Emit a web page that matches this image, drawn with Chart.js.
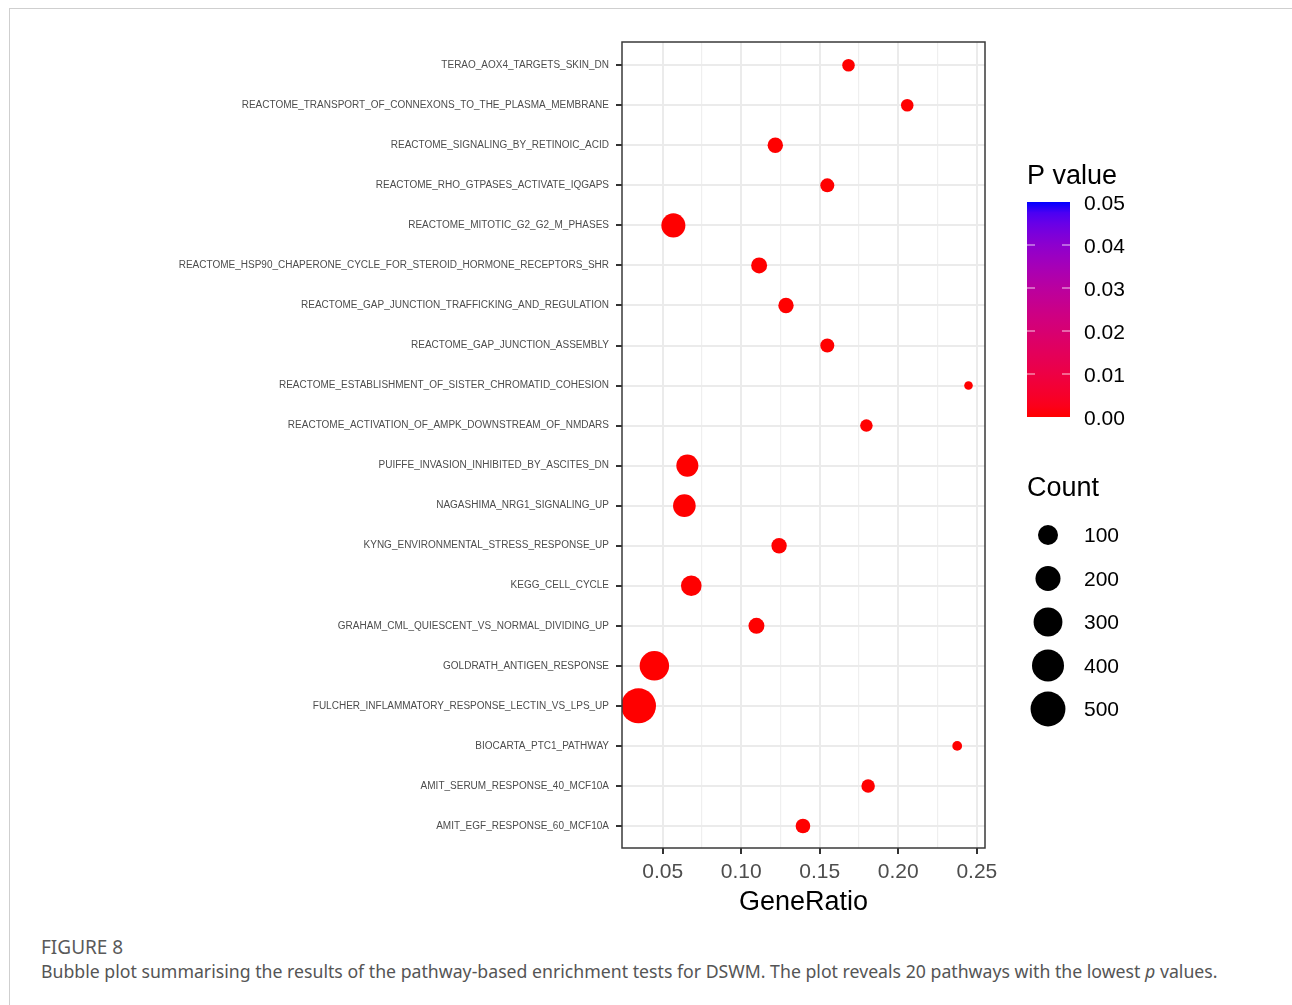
<!DOCTYPE html>
<html>
<head>
<meta charset="utf-8">
<script src="https://cdn.jsdelivr.net/npm/chart.js@4.4.0/dist/chart.umd.min.js"></script>
<style>
  body { margin: 0; background: #fff; }
  #card { position: absolute; left: 9px; top: 8px; right: 0; bottom: 0; border-top: 1px solid #cfcfcf; border-left: 1px solid #cfcfcf; }
  #wrap { position: absolute; left: 0; top: 0; width: 1292px; height: 930px; }
  .cap { position: absolute; left: 41px; font-family: "Noto Sans", sans-serif; line-height: 1; white-space: nowrap; }
  #figno { top: 938px; font-size: 19px; color: #5a5a5a; }
  #captxt { top: 963px; font-size: 17.7px; color: #555; }
</style>
</head>
<body>
<div id="card"></div>
<div id="wrap"><canvas id="bubbles" width="1292" height="930"></canvas></div>
<div class="cap" id="figno">FIGURE 8</div>
<div class="cap" id="captxt">Bubble plot summarising the results of the pathway-based enrichment tests for DSWM. The plot reveals 20 pathways with the lowest <i>p</i> values.</div>
<script>
// pathways listed top to bottom as in the figure
var pathways = [
    'TERAO_AOX4_TARGETS_SKIN_DN',
    'REACTOME_TRANSPORT_OF_CONNEXONS_TO_THE_PLASMA_MEMBRANE',
    'REACTOME_SIGNALING_BY_RETINOIC_ACID',
    'REACTOME_RHO_GTPASES_ACTIVATE_IQGAPS',
    'REACTOME_MITOTIC_G2_G2_M_PHASES',
    'REACTOME_HSP90_CHAPERONE_CYCLE_FOR_STEROID_HORMONE_RECEPTORS_SHR',
    'REACTOME_GAP_JUNCTION_TRAFFICKING_AND_REGULATION',
    'REACTOME_GAP_JUNCTION_ASSEMBLY',
    'REACTOME_ESTABLISHMENT_OF_SISTER_CHROMATID_COHESION',
    'REACTOME_ACTIVATION_OF_AMPK_DOWNSTREAM_OF_NMDARS',
    'PUIFFE_INVASION_INHIBITED_BY_ASCITES_DN',
    'NAGASHIMA_NRG1_SIGNALING_UP',
    'KYNG_ENVIRONMENTAL_STRESS_RESPONSE_UP',
    'KEGG_CELL_CYCLE',
    'GRAHAM_CML_QUIESCENT_VS_NORMAL_DIVIDING_UP',
    'GOLDRATH_ANTIGEN_RESPONSE',
    'FULCHER_INFLAMMATORY_RESPONSE_LECTIN_VS_LPS_UP',
    'BIOCARTA_PTC1_PATHWAY',
    'AMIT_SERUM_RESPONSE_40_MCF10A',
    'AMIT_EGF_RESPONSE_60_MCF10A'
];
var geneRatio = [0.1683, 0.2057, 0.1217, 0.1548, 0.0568, 0.1114, 0.1285, 0.1548, 0.2447, 0.1797,
                 0.0657, 0.0638, 0.1241, 0.0682, 0.1097, 0.0447, 0.0346, 0.2375, 0.1808, 0.1393];
var counts = [18, 18, 40, 28, 177, 46, 40, 28, 7, 18,
              136, 148, 40, 111, 46, 318, 505, 8, 24, 33];
var pValues = [2e-5, 3e-5, 1e-5, 2e-5, 1e-6, 3e-5, 2e-5, 3e-5, 4e-5, 4e-5,
               1e-6, 1e-6, 2e-5, 1e-6, 2e-5, 1e-7, 1e-8, 4e-5, 3e-5, 2e-5];

var xTicks = [0.05, 0.10, 0.15, 0.20, 0.25];
var xMinorTicks = [0.075, 0.125, 0.175, 0.225];
var pBreaks = [0, 0.01, 0.02, 0.03, 0.04, 0.05];
var countBreaks = [100, 200, 300, 400, 500];
var pMax = 0.05;

// ggplot style 5% expansion of the continuous axis
var xLo = Math.min.apply(null, geneRatio), xHi = Math.max.apply(null, geneRatio);
var xMin = xLo - (xHi - xLo) * 0.05, xMax = xHi + (xHi - xLo) * 0.05;

// size scale: area-like mapping of count to radius
var cMin = Math.min.apply(null, counts), cMax = Math.max.apply(null, counts);
var rMin = 4.3, rMax = 17.5;
function sizeR(c) {
    return rMin + (rMax - rMin) * Math.sqrt(Math.max(0, (c - cMin) / (cMax - cMin)));
}

// red -> blue gradient in Lab space (like scale_colour_gradient)
function toLin(c) { c /= 255; return c <= 0.04045 ? c / 12.92 : Math.pow((c + 0.055) / 1.055, 2.4); }
function toSrgb(c) {
    c = c <= 0.0031308 ? 12.92 * c : 1.055 * Math.pow(c, 1 / 2.4) - 0.055;
    return Math.round(Math.max(0, Math.min(1, c)) * 255);
}
function rgb2lab(r, g, b) {
    var R = toLin(r), G = toLin(g), B = toLin(b);
    var X = (0.4124 * R + 0.3576 * G + 0.1805 * B) / 0.95047;
    var Y = 0.2126 * R + 0.7152 * G + 0.0722 * B;
    var Z = (0.0193 * R + 0.1192 * G + 0.9505 * B) / 1.08883;
    function f(t) { return t > 0.008856 ? Math.cbrt(t) : 7.787 * t + 16 / 116; }
    var fx = f(X), fy = f(Y), fz = f(Z);
    return [116 * fy - 16, 500 * (fx - fy), 200 * (fy - fz)];
}
function lab2rgb(L, a, b) {
    var fy = (L + 16) / 116, fx = fy + a / 500, fz = fy - b / 200;
    function g(t) { return t > 0.206893 ? t * t * t : (t - 16 / 116) / 7.787; }
    var X = g(fx) * 0.95047, Y = g(fy), Z = g(fz) * 1.08883;
    var R = 3.2406 * X - 1.5372 * Y - 0.4986 * Z;
    var G = -0.9689 * X + 1.8758 * Y + 0.0415 * Z;
    var B = 0.0557 * X - 0.2040 * Y + 1.0570 * Z;
    return 'rgb(' + toSrgb(R) + ',' + toSrgb(G) + ',' + toSrgb(B) + ')';
}
var labLow = rgb2lab(255, 0, 0), labHigh = rgb2lab(0, 0, 255);
function pColor(p) {
    var t = Math.max(0, Math.min(1, p / pMax));
    return lab2rgb(labLow[0] + (labHigh[0] - labLow[0]) * t,
                   labLow[1] + (labHigh[1] - labLow[1]) * t,
                   labLow[2] + (labHigh[2] - labLow[2]) * t);
}

function isMajorX(v) { return xTicks.indexOf(v) >= 0; }

var points = [];
for (var i = 0; i < pathways.length; i++) {
    points.push({ x: geneRatio[i], y: i, r: sizeR(counts[i]) });
}

var panelAndLegends = {
    id: 'panelAndLegends',
    afterDatasetsDraw: function (chart) {
        var ctx = chart.ctx, a = chart.chartArea;
        ctx.save();
        ctx.strokeStyle = '#3a3a3a';
        ctx.lineWidth = 1.5;
        ctx.strokeRect(a.left, a.top, a.right - a.left, a.bottom - a.top);
        ctx.restore();
    },
    afterDraw: function (chart) {
        var ctx = chart.ctx;
        ctx.save();
        ctx.textAlign = 'left';
        ctx.textBaseline = 'middle';
        ctx.fillStyle = '#000';
        ctx.font = '27px "Liberation Sans", Arial, sans-serif';
        ctx.fillText('P value', 1027, 177);

        // colour bar
        var barX = 1027, barW = 43, barTop = 202, barBot = 417;
        var grad = ctx.createLinearGradient(0, barBot, 0, barTop);
        for (var k = 0; k <= 20; k++) grad.addColorStop(k / 20, pColor(k / 20 * pMax));
        ctx.fillStyle = grad;
        ctx.fillRect(barX, barTop, barW, barBot - barTop);
        ctx.font = '21px "Liberation Sans", Arial, sans-serif';
        for (var j = 0; j < pBreaks.length; j++) {
            var yy = barBot - (pBreaks[j] / pMax) * (barBot - barTop);
            if (j > 0 && j < pBreaks.length - 1) {
                ctx.strokeStyle = 'rgba(255,255,255,0.8)';
                ctx.lineWidth = 1;
                ctx.beginPath();
                ctx.moveTo(barX, yy); ctx.lineTo(barX + 8, yy);
                ctx.moveTo(barX + barW - 8, yy); ctx.lineTo(barX + barW, yy);
                ctx.stroke();
            }
            ctx.fillStyle = '#000';
            ctx.fillText(pBreaks[j].toFixed(2), 1084, yy + 2);
        }

        // size legend
        ctx.font = '27px "Liberation Sans", Arial, sans-serif';
        ctx.fillText('Count', 1027, 489);
        ctx.font = '21px "Liberation Sans", Arial, sans-serif';
        for (var m = 0; m < countBreaks.length; m++) {
            var cy = 535 + m * 43.5;
            ctx.fillStyle = '#000';
            ctx.beginPath();
            ctx.arc(1048, cy, sizeR(countBreaks[m]), 0, Math.PI * 2);
            ctx.fill();
            ctx.fillText(String(countBreaks[m]), 1084, cy + 1.5);
        }
        ctx.restore();
    }
};

Chart.defaults.font.family = '"Liberation Sans", Arial, sans-serif';

var ctx = document.getElementById('bubbles');
var bubbleChart = new Chart(ctx, {
    type: 'bubble',
    data: {
        datasets: [{
            label: 'Count',
            data: points,
            backgroundColor: pValues.map(pColor),
            borderWidth: 0,
            hoverBorderWidth: 0,
            clip: 0
        }]
    },
    options: {
        responsive: false,
        animation: false,
        layout: { padding: { left: 0, top: 42, right: 307, bottom: 0 } },
        plugins: { legend: { display: false }, tooltip: { enabled: false } },
        scales: {
            x: {
                type: 'linear',
                min: xMin,
                max: xMax,
                afterBuildTicks: function (scale) {
                    scale.ticks = xTicks.concat(xMinorTicks).sort(function (a, b) { return a - b; })
                        .map(function (v) { return { value: v }; });
                },
                afterFit: function (scale) { scale.height = 82; },
                border: { display: false },
                grid: {
                    color: function (c) { return c.tick && isMajorX(c.tick.value) ? '#ebebeb' : '#efefef'; },
                    lineWidth: function (c) { return c.tick && isMajorX(c.tick.value) ? 2 : 1.2; },
                    tickColor: function (c) { return c.tick && isMajorX(c.tick.value) ? '#333' : 'rgba(0,0,0,0)'; },
                    tickLength: 6,
                    tickWidth: 2
                },
                ticks: {
                    autoSkip: false,
                    maxRotation: 0,
                    padding: 6,
                    color: '#4d4d4d',
                    font: { size: 21 },
                    callback: function (v) { return isMajorX(v) ? v.toFixed(2) : ''; }
                },
                title: {
                    display: true,
                    text: 'GeneRatio',
                    color: '#000',
                    font: { size: 27 },
                    padding: { top: 0, bottom: 11 }
                }
            },
            y: {
                type: 'linear',
                reverse: true,
                min: -0.58,
                max: pathways.length - 0.45,
                afterBuildTicks: function (scale) {
                    scale.ticks = pathways.map(function (p, idx) { return { value: idx }; });
                },
                afterFit: function (scale) { scale.width = 622; },
                border: { display: false },
                grid: {
                    color: '#ebebeb',
                    lineWidth: 2,
                    tickColor: '#333',
                    tickLength: 6,
                    tickWidth: 2
                },
                ticks: {
                    autoSkip: false,
                    padding: 7,
                    color: '#4d4d4d',
                    font: { size: 10 },
                    callback: function (v) { return pathways[v]; }
                }
            }
        }
    },
    plugins: [panelAndLegends]
});
</script>
</body>
</html>
